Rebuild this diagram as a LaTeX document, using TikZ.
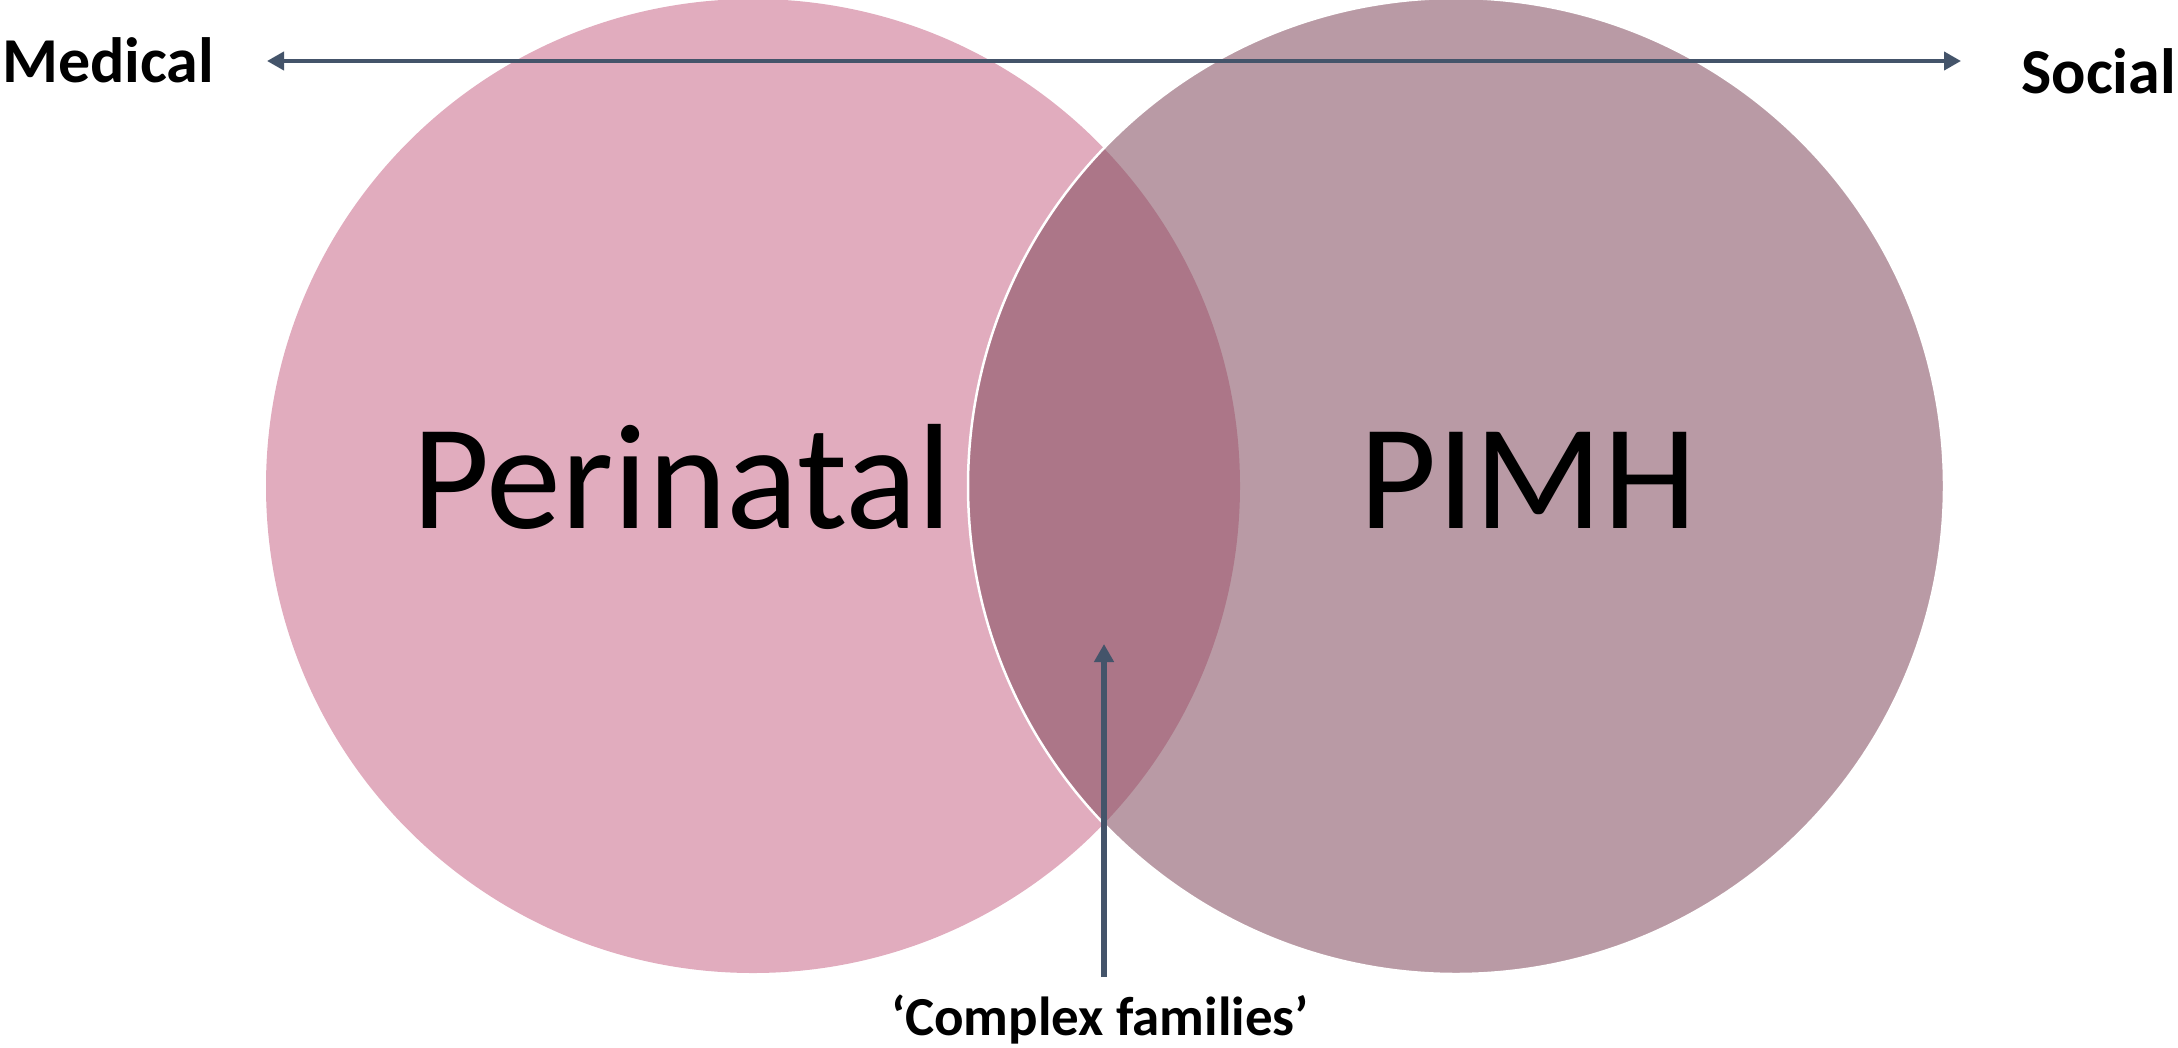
\documentclass[tikz,border=0pt]{standalone}
\usepackage{fontspec}
\setmainfont{Carlito}
\usetikzlibrary{arrows.meta}
\definecolor{perifill}{HTML}{E1ACBE}
\definecolor{pimhfill}{HTML}{844E60}
\definecolor{slate}{HTML}{44546A}
\tikzset{
  axis/.style={draw=slate, line width=4pt, {Triangle[length=17pt,width=18pt]}-{Triangle[length=17pt,width=18pt]}},
  pointer/.style={draw=slate, line width=6pt, -{Triangle[length=18pt,width=19pt]}},
  endlabel/.style={font=\bfseries\fontsize{64}{70}\selectfont, inner sep=0pt},
  bigname/.style={font=\fontsize{150}{160}\selectfont, inner sep=0pt},
}
\begin{document}
\begin{tikzpicture}[x=1pt,y=-1pt]
\useasboundingbox (0,0) rectangle (2178,1047);
% the two overlapping sets
\fill[perifill] (753,486) circle (487);
\fill[pimhfill, fill opacity=0.57] (1456,486) circle (488);
\draw[white, line width=2.5pt] (1456,486) circle (488);
% set names
\node[bigname, anchor=base] (peri) at (682,528) {Perinatal};
\node[bigname, anchor=base] (pimh) at (1528,528) {PIMH};
% medical-social axis
\node[endlabel, anchor=base west] (med) at (2,82) {Medical};
\node[endlabel, anchor=base east] (soc) at (2176,93) {Social};
\coordinate (axL) at (267,61);
\coordinate (axR) at (1961,61);
\draw[axis] (axL) -- (axR);
% overlap label with pointer
\node[endlabel, font=\bfseries\fontsize{55}{60}\selectfont, anchor=base] (cf) at (1100,1035) {‘Complex families’};
\coordinate (cfB) at (1104,977);
\coordinate (cfT) at (1104,644);
\draw[pointer] (cfB) -- (cfT);
\end{tikzpicture}
\end{document}
